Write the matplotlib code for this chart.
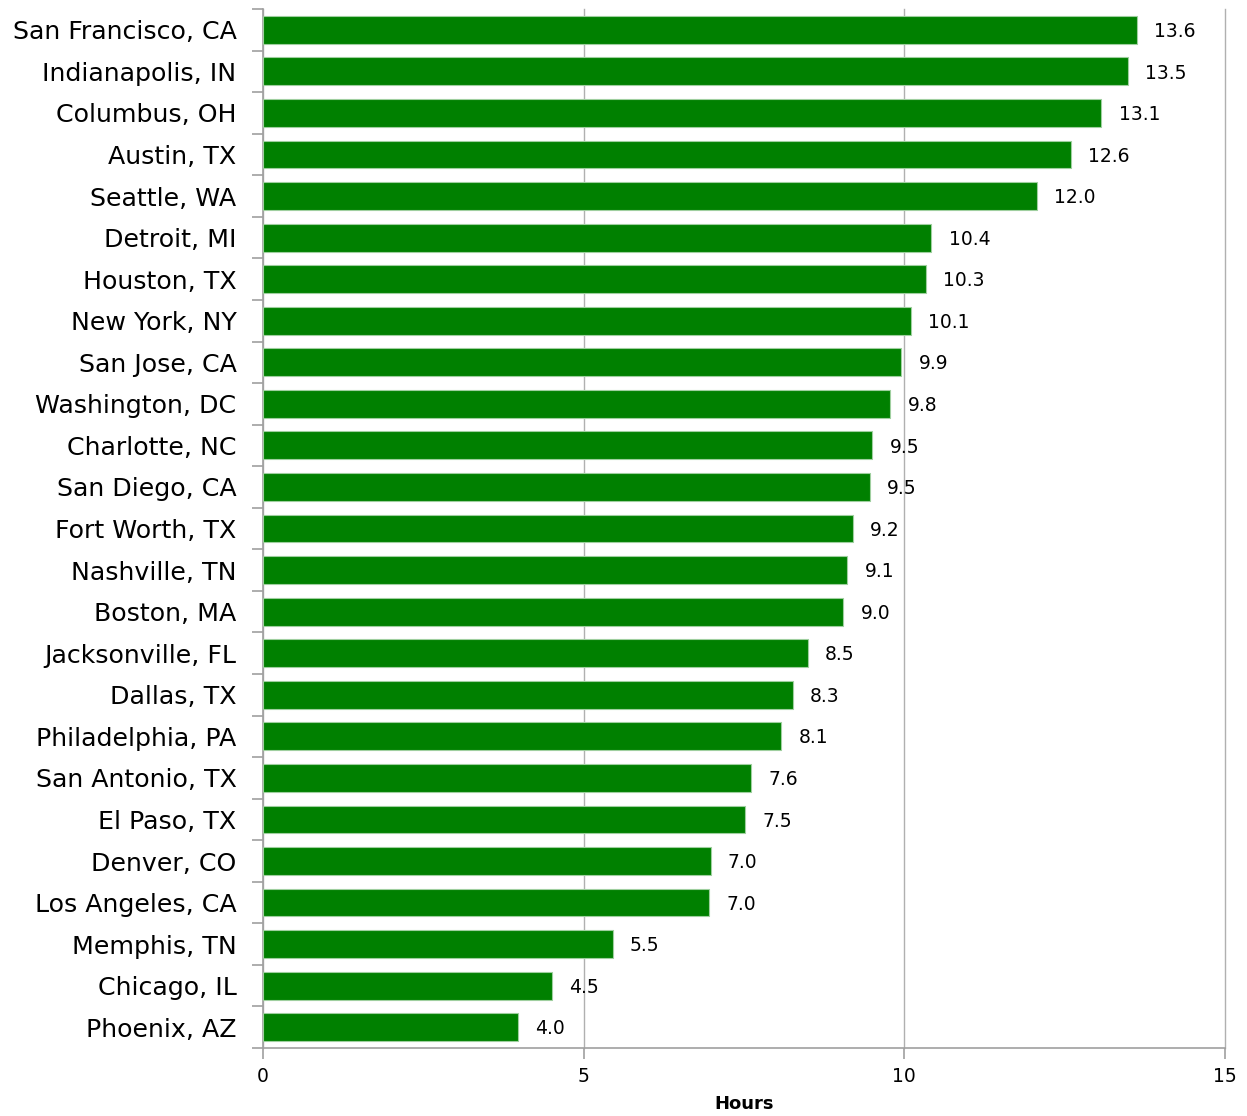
import matplotlib
matplotlib.use("Agg")
import matplotlib.pyplot as plt
import numpy as np

cities = ["San Francisco, CA", "Indianapolis, IN", "Columbus, OH", "Austin, TX",
          "Seattle, WA", "Detroit, MI", "Houston, TX", "New York, NY",
          "San Jose, CA", "Washington, DC", "Charlotte, NC", "San Diego, CA",
          "Fort Worth, TX", "Nashville, TN", "Boston, MA", "Jacksonville, FL",
          "Dallas, TX", "Philadelphia, PA", "San Antonio, TX", "El Paso, TX",
          "Denver, CO", "Los Angeles, CA", "Memphis, TN", "Chicago, IL",
          "Phoenix, AZ"]
hours = [13.62, 13.48, 13.07, 12.6, 12.07, 10.42, 10.33, 10.1, 9.95, 9.78,
         9.5, 9.46, 9.2, 9.11, 9.05, 8.49, 8.26, 8.08, 7.61, 7.52,
         6.98, 6.96, 5.45, 4.5, 3.97]
labels = ["13.6", "13.5", "13.1", "12.6", "12.0", "10.4", "10.3", "10.1", "9.9", "9.8",
          "9.5", "9.5", "9.2", "9.1", "9.0", "8.5", "8.3", "8.1", "7.6", "7.5",
          "7.0", "7.0", "5.5", "4.5", "4.0"]
xticks = [0, 5, 10, 15]

plt.rcParams['font.family'] = ['DejaVu Sans']

fig = plt.figure(figsize=(12.47, 11.16), dpi=100)
ax = fig.add_axes([0.2109, 0.0609, 0.7715, 0.931])

y = np.arange(len(cities))
ax.barh(y, hours, height=0.67, color="#008000", edgecolor="#9fcf9f", linewidth=0.8, zorder=3)
for yi, v, lab in zip(y, hours, labels):
    ax.text(v + 0.27, yi + 0.04, lab, va="center", ha="left", fontsize=13.5, zorder=4)

ax.set_xlim(0, 15)
ax.set_ylim(len(cities) - 0.5, -0.5)
ax.set_xticks(xticks)
ax.set_xticklabels([str(t) for t in xticks], fontsize=13.5)
ax.set_yticks(y)
ax.set_yticklabels(cities, fontsize=18.2)
ax.set_yticks(np.arange(len(cities) + 1) - 0.5, minor=True)
ax.tick_params(axis="y", which="major", length=0, pad=19)
ax.tick_params(axis="y", which="minor", length=8, color="#a0a0a0", width=1.2)
ax.tick_params(axis="x", length=8, color="#a0a0a0", width=1.2, pad=6, direction="out")
ax.xaxis.grid(True, color="#b0b0b0", linewidth=1.0, zorder=0)
for line in ax.get_xgridlines():
    line.set_clip_on(False)
for s in ["top", "right"]:
    ax.spines[s].set_visible(False)
for s in ["left", "bottom"]:
    ax.spines[s].set_color("#a0a0a0")
    ax.spines[s].set_linewidth(1.2)
ax.set_xlabel("Hours", fontsize=13, fontweight="bold", labelpad=6)

fig.savefig("out.png", dpi=100)
